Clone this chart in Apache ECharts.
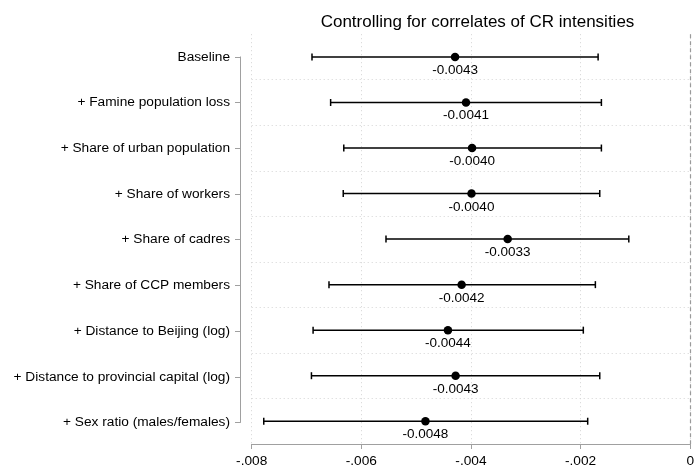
<!DOCTYPE html>
<html>
<head>
<meta charset="utf-8">
<script src="https://cdn.jsdelivr.net/npm/echarts@6/dist/echarts.min.js"></script>
<style>
html,body{margin:0;padding:0;background:#fff;}
#chart{width:697px;height:468px;}
</style>
</head>
<body>
<div id="chart"></div>
<script>
var titleText = 'Controlling for correlates of CR intensities';
var categories = [
  'Baseline',
  '+ Famine population loss',
  '+ Share of urban population',
  '+ Share of workers',
  '+ Share of cadres',
  '+ Share of CCP members',
  '+ Distance to Beijing (log)',
  '+ Distance to provincial capital (log)',
  '+ Sex ratio (males/females)'
];
var coef   = [-0.00429, -0.00409, -0.00398, -0.00399, -0.00333, -0.00417, -0.00442, -0.00428, -0.00483];
var ciLow  = [-0.00690, -0.00656, -0.00632, -0.00633, -0.00555, -0.00659, -0.00688, -0.00691, -0.00778];
var ciHigh = [-0.00168, -0.00162, -0.00162, -0.00165, -0.00112, -0.00173, -0.00195, -0.00165, -0.00187];
var xTicks = [-0.008, -0.006, -0.004, -0.002, 0];
var xMin = -0.008, xMax = 0, xStep = 0.002;

var FONT = '"Liberation Sans", Arial, Helvetica, sans-serif';

var barData = categories.map(function(c, i){ return [i, ciLow[i], ciHigh[i]]; });
var pointData = categories.map(function(c, i){ return [coef[i], i]; });

function fmtTick(v){
  if (Math.abs(v) < 1e-12) return '0';
  var s = v.toFixed(3);
  return s.replace('0.', '.');
}

var chart = echarts.init(document.getElementById('chart'), null, {renderer:'canvas'});
chart.setOption({
  backgroundColor: '#fff',
  animation: false,
  textStyle: {fontFamily: FONT},
  title: {
    text: titleText,
    left: 472.5,
    textAlign: 'center',
    top: 9,
    textStyle: {fontFamily: FONT, fontSize: 17, fontWeight: 'normal', color: '#000'}
  },
  grid: [
    {left: 251.7, right: 3.7, top: 34.2, bottom: 22.8},
    {left: 240, width: 5, top: 56.9, bottom: 45.5}
  ],
  xAxis: [
    {
      type: 'value', gridIndex: 0, min: xMin, max: xMax, interval: xStep,
      axisLine: {show: true, lineStyle: {color: '#a0a0a0', width: 1}},
      axisTick: {show: true, length: 5, lineStyle: {color: '#a0a0a0'}},
      axisLabel: {
        color: '#000', fontSize: 13.7, fontFamily: FONT, margin: 10,
        formatter: function(v){ return fmtTick(v); },
        showMinLabel: true, showMaxLabel: true
      },
      splitLine: {show: true, lineStyle: {color: '#d4d4d4', type: [1, 3], width: 1}}
    },
    {type: 'value', gridIndex: 1, show: false, min: 0, max: 1}
  ],
  yAxis: [
    {
      type: 'category', gridIndex: 0, data: categories, inverse: true, boundaryGap: true,
      axisLine: {show: false}, axisTick: {show: false}, axisLabel: {show: false},
      splitLine: {show: true, showMinLine: false, showMaxLine: false,
                  lineStyle: {color: '#d4d4d4', type: [1, 3], width: 1}}
    },
    {
      type: 'category', gridIndex: 1, data: categories, inverse: true, boundaryGap: false,
      axisLine: {show: true, lineStyle: {color: '#a0a0a0', width: 1}},
      axisTick: {show: true, length: 5, lineStyle: {color: '#a0a0a0'}},
      axisLabel: {color: '#000', fontSize: 13.7, fontFamily: FONT, margin: 10, interval: 0},
      splitLine: {show: false}
    }
  ],
  series: [
    {
      type: 'custom',
      xAxisIndex: 0, yAxisIndex: 0,
      data: barData,
      encode: {x: [1, 2], y: 0},
      renderItem: function(params, api){
        var yi = api.value(0);
        var p1 = api.coord([api.value(1), yi]);
        var p2 = api.coord([api.value(2), yi]);
        var h = 3.5;
        var st = {stroke: '#000', lineWidth: 1.5};
        return {
          type: 'group',
          children: [
            {type: 'line', shape: {x1: p1[0], y1: p1[1], x2: p2[0], y2: p2[1]}, style: st},
            {type: 'line', shape: {x1: p1[0], y1: p1[1] - h, x2: p1[0], y2: p1[1] + h}, style: st},
            {type: 'line', shape: {x1: p2[0], y1: p2[1] - h, x2: p2[0], y2: p2[1] + h}, style: st}
          ]
        };
      },
      markLine: {
        silent: true, symbol: 'none',
        label: {show: false},
        lineStyle: {color: '#9a9a9a', type: [4, 3], width: 1.2},
        data: [{xAxis: 0}]
      },
      z: 3
    },
    {
      type: 'scatter',
      xAxisIndex: 0, yAxisIndex: 0,
      data: pointData,
      symbol: 'circle', symbolSize: 8.5,
      itemStyle: {color: '#000', opacity: 1},
      label: {
        show: true, position: 'bottom', distance: 2,
        color: '#000', fontSize: 13.5, fontFamily: FONT,
        formatter: function(p){ return p.value[0].toFixed(4); }
      },
      z: 4
    }
  ]
});
</script>
</body>
</html>
